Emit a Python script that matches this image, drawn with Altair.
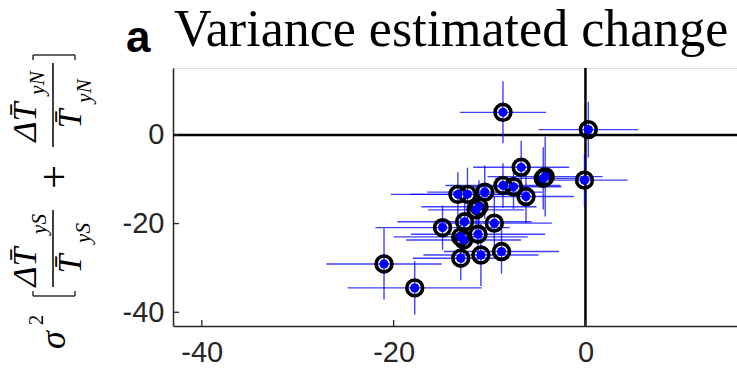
import altair as alt
import pandas as pd

# ---- data ----
x_vals = [-8.6, 0.3, -0.1, -4.2, -4.4, -6.7, -8.6, -7.5, -6.2, -10.5, -13.3, -12.3,
          -11.1, -11.4, -12.6, -9.5, -14.9, -11.2, -13.0, -12.7, -8.75, -10.9, -13.0,
          -21.0, -17.8]
y_vals = [5.1, 1.2, -10.2, -9.4, -9.8, -7.3, -11.4, -11.7, -13.9, -12.9, -13.4, -13.4,
          -16.2, -16.9, -19.6, -19.9, -20.9, -22.4, -23.0, -23.7, -26.3, -27.1, -27.8,
          -29.1, -34.5]
x_err = [4.5, 5.2, 4.5, 6.0, 5.0, 5.0, 6.0, 5.0, 5.0, 6.0, 7.0, 6.0,
         6.0, 5.0, 7.0, 6.0, 7.0, 7.0, 7.0, 6.0, 6.0, 6.0, 5.0,
         6.0, 7.0]
y_err = [7.0, 6.3, 6.0, 9.0, 7.0, 6.0, 5.0, 5.0, 6.0, 6.0, 5.0, 6.0,
         6.0, 5.0, 6.0, 6.0, 5.0, 6.0, 5.0, 5.0, 5.0, 7.0, 5.0,
         8.0, 6.0]
x_ticks = [-40, -20, 0]
y_ticks = [-40, -20, 0]

df = pd.DataFrame({"x": x_vals, "y": y_vals, "xe": x_err, "ye": y_err})
df["xlo"] = df["x"] - df["xe"]
df["xhi"] = df["x"] + df["xe"]
df["ylo"] = df["y"] - df["ye"]
df["yhi"] = df["y"] + df["ye"]

W, H = 564, 258
OX, OY = 173, 68  # plot origin in page pixels

xs = alt.Scale(domain=[-43, 15.8], nice=False, zero=False)
ys = alt.Scale(domain=[-43.1, 15.1], nice=False, zero=False)

AXC = "#262626"
LBL = "toString(datum.value)"
xaxis = alt.Axis(values=x_ticks, labelFontSize=29, labelFont="Liberation Sans", labelColor=AXC,
                 domainColor=AXC, domainWidth=1.5, ticks=False, grid=False, title=None,
                 labelPadding=12, labelExpr=LBL)
yaxis = alt.Axis(values=y_ticks, labelFontSize=29, labelFont="Liberation Sans", labelColor=AXC,
                 domainColor=AXC, domainWidth=1.5, ticks=False, grid=False, title=None,
                 labelPadding=9, labelExpr=LBL)

base = alt.Chart(df)

axes_layer = base.mark_point(opacity=0).encode(
    x=alt.X("x:Q", scale=xs, axis=xaxis),
    y=alt.Y("y:Q", scale=ys, axis=yaxis),
)

zero = pd.DataFrame({"z": [0]})
hline = alt.Chart(zero).mark_rule(color="black", strokeWidth=2.5).encode(
    y=alt.Y("z:Q", scale=ys))
vline = alt.Chart(zero).mark_rule(color="black", strokeWidth=2.5).encode(
    x=alt.X("z:Q", scale=xs))

BLUE = "#0000ff"
xbars = base.mark_rule(color=BLUE, strokeWidth=1.4, opacity=0.75).encode(
    x=alt.X("xlo:Q", scale=xs), x2="xhi:Q", y=alt.Y("y:Q", scale=ys))
ybars = base.mark_rule(color=BLUE, strokeWidth=1.4, opacity=0.75).encode(
    y=alt.Y("ylo:Q", scale=ys), y2="yhi:Q", x=alt.X("x:Q", scale=xs))

rings = base.mark_point(shape="circle", filled=False, color="black", strokeWidth=3.6,
                        size=250, opacity=1).encode(
    x=alt.X("x:Q", scale=xs), y=alt.Y("y:Q", scale=ys))
dots = base.mark_point(shape="circle", filled=True, color=BLUE, size=85, opacity=1).encode(
    x=alt.X("x:Q", scale=xs), y=alt.Y("y:Q", scale=ys))

xt = alt.Chart(pd.DataFrame({"v": x_ticks})).mark_rule(color=AXC, strokeWidth=1.3).encode(
    x=alt.X("v:Q", scale=xs), y=alt.value(H), y2=alt.value(H - 6))
yt = alt.Chart(pd.DataFrame({"v": y_ticks})).mark_rule(color=AXC, strokeWidth=1.3).encode(
    y=alt.Y("v:Q", scale=ys), x=alt.value(0), x2=alt.value(6))

one = pd.DataFrame({"k": [0]})


def txt(s, px, py, size, font="Liberation Serif", style="normal", weight="normal",
        angle=0, align="center", baseline="middle", color="black"):
    return alt.Chart(one).mark_text(text=s, font=font, fontSize=size, fontStyle=style,
                                    fontWeight=weight, angle=angle, align=align,
                                    baseline=baseline, color=color).encode(
        x=alt.value(px - OX), y=alt.value(py - OY))


def seg(px1, py1, px2, py2, w=1.5, color="black"):
    return alt.Chart(one).mark_rule(color=color, strokeWidth=w).encode(
        x=alt.value(px1 - OX), y=alt.value(py1 - OY),
        x2=alt.value(px2 - OX), y2=alt.value(py2 - OY))


title = [
    txt("a", 126, 52, 44, font="Liberation Sans", weight="bold", align="left",
        baseline="alphabetic"),
    txt("Variance estimated change", 174, 46, 52, align="left", baseline="alphabetic"),
]

BR = "#333333"
ylab = [
    # sigma squared
    txt("σ", 54, 340, 36, style="italic", angle=270),
    txt("2", 37, 320, 21, angle=270),
    # left bracket (rotated)
    seg(33, 296, 75, 296, 1.5, BR), seg(33, 291, 33, 296, 1.5, BR), seg(75, 291, 75, 296, 1.5, BR),
    # first fraction
    txt("ΔT\u0304", 26, 267, 34, style="italic", angle=270),
    txt("yS", 40, 224, 21, style="italic", angle=270),
    seg(53, 210, 53, 287, 1.5),
    txt("T\u0304", 71, 264, 34, style="italic", angle=270),
    txt("yS", 84, 233, 21, style="italic", angle=270),
    # plus
    txt("+", 55, 177, 42, angle=270),
    # second fraction
    txt("ΔT\u0304", 26, 122, 34, style="italic", angle=270),
    txt("yN", 38, 83, 21, style="italic", angle=270),
    seg(53, 63, 53, 147, 1.5),
    txt("T\u0304", 71, 119, 34, style="italic", angle=270),
    txt("yN", 85, 91, 21, style="italic", angle=270),
    # right bracket (rotated)
    seg(33, 55, 75, 55, 1.5, BR), seg(33, 55, 33, 60, 1.5, BR), seg(75, 55, 75, 60, 1.5, BR),
]

chart = alt.layer(axes_layer, hline, vline, xbars, ybars, rings, dots, xt, yt,
                  *title, *ylab).properties(
    width=W, height=H,
    autosize=alt.AutoSizeParams(type="none"),
    padding={"left": OX, "top": OY, "right": 0, "bottom": 379 - OY - H},
).configure_view(stroke=None).configure(background="white")

chart.save("out.html", embed_options={"renderer": "svg", "actions": False})
